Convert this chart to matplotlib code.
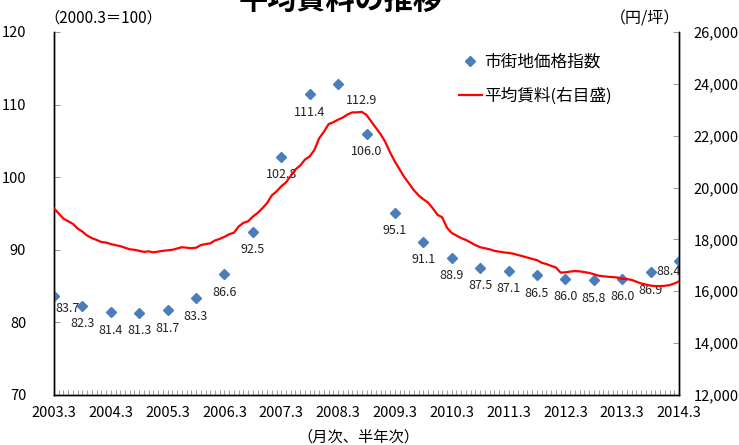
import matplotlib
matplotlib.use("Agg")
import matplotlib.pyplot as plt
from matplotlib.lines import Line2D
import numpy as np

plt.rcParams['font.family'] = ['Noto Sans CJK JP', 'DejaVu Sans']

# ---- data ----
title = "平均賃料の推移"
x_tick_labels = ["2003.3", "2004.3", "2005.3", "2006.3", "2007.3", "2008.3",
                 "2009.3", "2010.3", "2011.3", "2012.3", "2013.3", "2014.3"]

# 市街地価格指数 (semi-annual, 2003.3 .. 2014.3)
price_index = [83.7, 82.3, 81.4, 81.3, 81.7, 83.3, 86.6, 92.5, 102.8, 111.4,
               112.9, 106.0, 95.1, 91.1, 88.9, 87.5, 87.1, 86.5, 86.0, 85.8,
               86.0, 86.9, 88.4]

# 平均賃料 (monthly, 2003.3 .. 2014.3), 円/坪
avg_rent = [
    19200, 19000, 18800, 18700, 18600, 18420, 18300, 18150, 18050, 17980, 17900, 17880,
    17820, 17780, 17740, 17680, 17620, 17600, 17560, 17520, 17540, 17500, 17530, 17560,
    17580, 17600, 17650, 17700, 17680, 17660, 17680, 17780, 17820, 17850, 17960, 18020,
    18100, 18200, 18260, 18500, 18640, 18700, 18880, 19020, 19200, 19400, 19700, 19850,
    20050, 20200, 20450, 20700, 20850, 21080, 21200, 21450, 21900, 22150, 22450, 22520,
    22620, 22700, 22820, 22900, 22900, 22920, 22800, 22550, 22300, 22050, 21750, 21350,
    21000, 20700, 20400, 20150, 19900, 19700, 19550, 19420, 19200, 18950, 18850, 18450,
    18250, 18150, 18050, 17980, 17880, 17780, 17700, 17660, 17620, 17560, 17530, 17500,
    17480, 17450, 17400, 17350, 17300, 17250, 17200, 17100, 17050, 16980, 16920, 16720,
    16730, 16760, 16780, 16770, 16740, 16710, 16660, 16600, 16580, 16560, 16550, 16530,
    16480, 16470, 16440, 16370, 16300, 16260, 16220, 16200, 16200, 16210, 16240, 16300,
    16380,
]

series_names = ["市街地価格指数", "平均賃料(右目盛)"]

# ---- figure ----
W, H = 739, 445
fig = plt.figure(figsize=(W / 100, H / 100), dpi=100)
L, R, B, T = 54, 679, 395, 32
ax = fig.add_axes([L / W, 1 - B / H, (R - L) / W, (B - T) / H])
ax2 = ax.twinx()

blue = "#4A7EBB"
red = "#FF0000"

months_rent = np.arange(len(avg_rent))
months_idx = np.arange(len(price_index)) * 6

ax2.plot(months_rent, avg_rent, color=red, lw=1.6, zorder=3)
ax.plot(months_idx, price_index, linestyle="none", marker="D", ms=5.5,
        color=blue, zorder=4)

# data labels
special = {0: (14, -13), 10: (23, -17), 22: (-10, -10)}
for i, (m, v) in enumerate(zip(months_idx, price_index)):
    dx, dy = special.get(i, (0, -18))
    ax.annotate(f"{v:.1f}", (m, v), xytext=(dx * 0.72, dy * 0.72),
                textcoords="offset points", ha="center", va="center",
                fontsize=9, color="#222222", annotation_clip=False, zorder=5)

ax.set_xlim(0, 132)
ax.set_ylim(70, 120)
ax2.set_ylim(12000, 26000)
ax.set_yticks(np.arange(70, 121, 10))
ax2.set_yticks(np.arange(12000, 26001, 2000))
ax2.set_yticklabels([f"{v:,}" for v in range(12000, 26001, 2000)])
ax.set_xticks(np.arange(0, 133, 12))
ax.set_xticklabels(x_tick_labels)
ax.set_xticks(np.arange(0, 133, 1), minor=True)

for a in (ax, ax2):
    a.spines["top"].set_visible(False)
    for s in a.spines.values():
        s.set_linewidth(1.0)
        s.set_color("black")

ax.tick_params(axis="x", which="both", direction="in", length=3.5, width=0.6,
               color="#888888", labelsize=10.5, pad=8)
ax.tick_params(axis="y", direction="in", length=4, width=0.6, color="#888888",
               labelsize=10.5, pad=20)
ax2.tick_params(axis="y", direction="in", length=4, width=0.6, color="#888888",
                labelsize=10.5, pad=10.5)

# texts
fig.text(341 / W, 1 - 9 / H, title, ha="center", va="baseline", fontsize=21,
         fontweight="bold")
fig.text(103 / W, 1 - 18 / H, "（2000.3＝100）", ha="center", va="center",
         fontsize=11)
fig.text(645 / W, 1 - 19 / H, "（円/坪）", ha="center", va="center", fontsize=11.5)
fig.text(358 / W, 1 - 437 / H, "（月次、半年次）", ha="center", va="center",
         fontsize=11)

handles = [Line2D([], [], linestyle="none", marker="D", ms=5.5, color=blue),
           Line2D([], [], color=red, lw=1.6)]
fig.legend(handles, series_names, loc="upper left",
           bbox_to_anchor=(459 / W, 1 - 54 / H), bbox_transform=fig.transFigure,
           frameon=False, fontsize=12, handlelength=1.35, handletextpad=0.15,
           borderpad=0, borderaxespad=0, labelspacing=0.98)

fig.savefig("out.png", dpi=100)
